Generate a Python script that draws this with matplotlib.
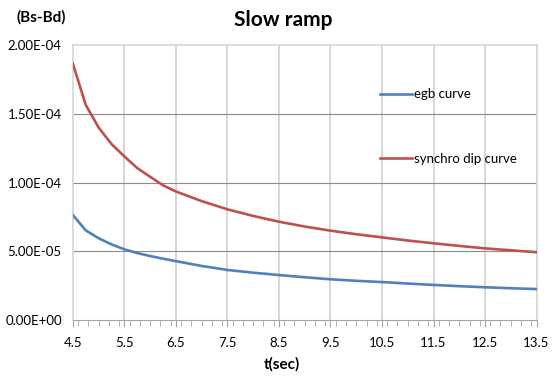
import matplotlib
matplotlib.use("Agg")
import matplotlib.pyplot as plt
from matplotlib.ticker import FuncFormatter, MultipleLocator

plt.rcParams['font.family'] = ['Lato', 'DejaVu Sans']

t = [4.5, 4.75, 5.0, 5.25, 5.5, 5.75, 6.0, 6.25, 6.5, 7.0, 7.5, 8.0, 8.5, 9.0, 9.5,
     10.0, 10.5, 11.0, 11.5, 12.0, 12.5, 13.0, 13.5]
egb = [0.764, 0.652, 0.595, 0.550, 0.514, 0.487, 0.465, 0.446, 0.428, 0.393, 0.364,
       0.344, 0.327, 0.311, 0.296, 0.285, 0.276, 0.265, 0.255, 0.246, 0.238, 0.231, 0.225]
synchro = [1.865, 1.565, 1.40, 1.28, 1.19, 1.105, 1.042, 0.98, 0.935, 0.865, 0.805,
           0.757, 0.715, 0.68, 0.65, 0.624, 0.601, 0.578, 0.558, 0.539, 0.521, 0.507, 0.493]
egb = [v * 1e-4 for v in egb]
synchro = [v * 1e-4 for v in synchro]
x_ticks = [4.5, 5.5, 6.5, 7.5, 8.5, 9.5, 10.5, 11.5, 12.5, 13.5]
y_ticks = [0, 5e-5, 1e-4, 1.5e-4, 2e-4]

fig = plt.figure(figsize=(5.52, 3.76), dpi=100)
ax = fig.add_axes([0.132, 0.149, 0.840, 0.731])

ax.plot(t, egb, color='#4F81BD', lw=1.9, label='egb curve', zorder=3)
ax.plot(t, synchro, color='#C0504D', lw=1.9, label='synchro dip curve', zorder=3)

ax.set_xlim(4.5, 13.5)
ax.set_ylim(0, 2e-4)
ax.set_xticks(x_ticks)
ax.set_xticklabels([str(v) for v in x_ticks])
ax.xaxis.set_minor_locator(MultipleLocator(0.2))
ax.set_yticks(y_ticks)
ax.yaxis.set_major_formatter(FuncFormatter(lambda v, p: '{:.2E}'.format(v)))

# gridlines: light thick verticals, darker thin horizontals
for xv in x_ticks[1:]:
    ax.axvline(xv, color='#d6d6d6', lw=1.4, zorder=1)
for yv in y_ticks[1:4]:
    ax.axhline(yv, color='#8c8c8c', lw=0.8, zorder=1)

for s in ['top', 'right', 'left']:
    ax.spines[s].set_color('#d6d6d6')
    ax.spines[s].set_linewidth(1.2)
ax.spines['bottom'].set_color('#a6a6a6')
ax.tick_params(axis='x', which='major', length=5, color='#a6a6a6', labelsize=9.5, pad=7)
ax.tick_params(axis='x', which='minor', length=4, color='#a6a6a6')
ax.tick_params(axis='y', length=0, labelsize=9.5, pad=8)

fig.text(0.513, 0.947, 'Slow ramp', ha='center', va='center', fontsize=15, fontweight='bold')
fig.text(0.03, 0.955, '(Bs-Bd)', ha='left', va='center', fontsize=11, fontweight='bold')
fig.text(0.51, 0.03, 't(sec)', ha='center', va='center', fontsize=11, fontweight='bold')

ax.legend(loc='upper left', bbox_to_anchor=(0.666, 0.797), bbox_transform=fig.transFigure,
          frameon=False, fontsize=9.5, labelspacing=4.0, handlelength=2.5,
          handletextpad=0.1)

fig.savefig('out.png', dpi=100)
